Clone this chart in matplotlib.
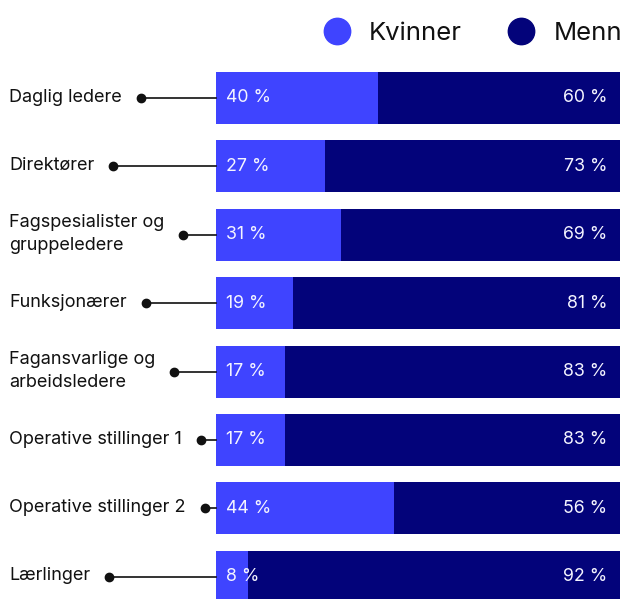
import matplotlib
matplotlib.use("Agg")
import matplotlib.pyplot as plt
from matplotlib.lines import Line2D
import numpy as np

categories = ["Daglig ledere", "Direktører", "Fagspesialister og\ngruppeledere",
              "Funksjonærer", "Fagansvarlige og\narbeidsledere",
              "Operative stillinger 1", "Operative stillinger 2", "Lærlinger"]
kvinner = [40, 27, 31, 19, 17, 17, 44, 8]
menn = [60, 73, 69, 81, 83, 83, 56, 92]

c_kvinner = "#3F44FF"
c_menn = "#03037A"
plt.rcParams["font.family"] = ["Inter", "DejaVu Sans"]

W, H = 622, 599
fig = plt.figure(figsize=(W / 100, H / 100), dpi=100)
step = 68.4
top = 98 - step / 2
ax = fig.add_axes([216 / W, (H - (top + 8 * step)) / H, 404 / W, 8 * step / H])

y = np.arange(len(categories))
ax.barh(y, kvinner, height=0.76, color=c_kvinner)
ax.barh(y, menn, left=kvinner, height=0.76, color=c_menn)
ax.set_xlim(0, 100)
ax.set_ylim(len(categories) - 0.5, -0.5)
ax.axis("off")

for i in y:
    ax.text(2.4, i, f"{kvinner[i]} %", color="#F4F4FF", fontsize=12.8,
            va="center", ha="left")
    ax.text(96.8, i, f"{menn[i]} %", color="#F4F4FF", fontsize=12.8,
            va="center", ha="right")

# labels on the left with a connector line to the bar
fig.canvas.draw()
renderer = fig.canvas.get_renderer()
for i, lab in enumerate(categories):
    yc = ax.transData.transform((0, i))[1]
    t = fig.text(9 / W, (yc + 1) / H, lab, fontsize=13, ha="left", va="center",
                 color="#111111", linespacing=1.45)
    bb = t.get_window_extent(renderer)
    x0 = bb.x1 + 19
    fig.add_artist(Line2D([x0 / W, 216 / W], [yc / H, yc / H], color="#111111",
                          lw=1.2, transform=fig.transFigure))
    fig.add_artist(Line2D([x0 / W], [yc / H], marker="o", markersize=6,
                          color="#111111", transform=fig.transFigure))

handles = [Line2D([], [], marker="o", ls="", markersize=19, color=c_kvinner),
           Line2D([], [], marker="o", ls="", markersize=19, color=c_menn)]
fig.legend(handles, ["Kvinner", "Menn"], loc="center right",
           bbox_to_anchor=(645 / W, (H - 33) / H), ncol=2, frameon=False,
           fontsize=18.5, handletextpad=0.25, columnspacing=1.3,
           labelcolor="#111111")

fig.savefig("out.png", dpi=100)
